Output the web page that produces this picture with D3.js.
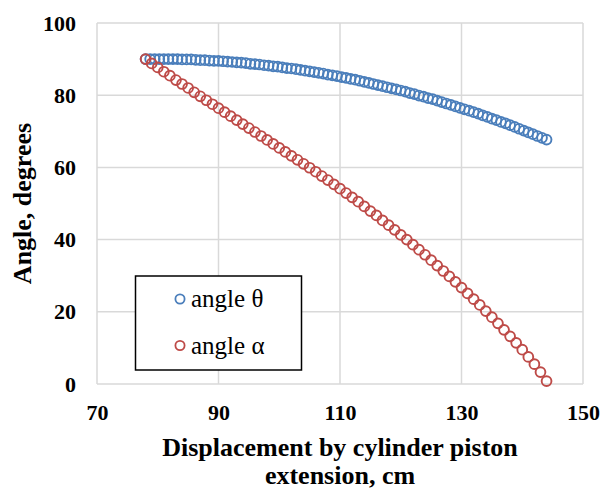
<!DOCTYPE html>
<html>
<head>
<meta charset="utf-8">
<script src="https://cdn.jsdelivr.net/npm/d3@7"></script>
<style>
  html, body { margin: 0; padding: 0; background: #fff; }
  svg { display: block; }
  text { font-family: "Liberation Serif", "Times New Roman", serif; }
</style>
</head>
<body>
<svg id="chart" width="600" height="490"></svg>
<script>
// ---- data ----
const xTicks = [70, 90, 110, 130, 150];
const yTicks = [0, 20, 40, 60, 80, 100];

const seriesNames = ["angle \u03b8", "angle \u03b1"];

// displacement values for angle theta
const thetaX = [78, 78.75, 79.5, 80.25, 81, 81.75, 82.5, 83.25, 84, 84.75, 85.5, 86.25, 87, 87.75, 88.5, 89.25,
  90, 90.75, 91.5, 92.25, 93, 93.75, 94.5, 95.25, 96, 96.75, 97.5, 98.25, 99, 99.75, 100.5, 101.25,
  102, 102.75, 103.5, 104.25, 105, 105.75, 106.5, 107.25, 108, 108.75, 109.5, 110.25, 111, 111.75,
  112.5, 113.25, 114, 114.75, 115.5, 116.25, 117, 117.75, 118.5, 119.25, 120, 120.75, 121.5, 122.25,
  123, 123.75, 124.5, 125.25, 126, 126.75, 127.5, 128.25, 129, 129.75, 130.5, 131.25, 132, 132.75,
  133.5, 134.25, 135, 135.75, 136.5, 137.25, 138, 138.75, 139.5, 140.25, 141, 141.75, 142.5, 143.25, 144];
const thetaY = [90.0, 90.0, 90.0, 90.0, 90.0, 90.0, 90.0, 90.0, 89.9, 89.9, 89.9, 89.8, 89.7, 89.7, 89.6, 89.5,
  89.5, 89.4, 89.3, 89.2, 89.1, 89.0, 88.9, 88.7, 88.6, 88.5, 88.3, 88.2, 88.0, 87.9, 87.7, 87.5,
  87.4, 87.2, 87.0, 86.8, 86.6, 86.4, 86.2, 86.0, 85.7, 85.5, 85.3, 85.0, 84.8, 84.5,
  84.3, 84.0, 83.7, 83.4, 83.1, 82.8, 82.5, 82.2, 81.9, 81.6, 81.3, 81.0, 80.6, 80.3,
  79.9, 79.6, 79.2, 78.9, 78.5, 78.1, 77.7, 77.3, 76.9, 76.5, 76.1, 75.7, 75.3, 74.9,
  74.4, 74.0, 73.5, 73.1, 72.6, 72.2, 71.7, 71.2, 70.7, 70.2, 69.7, 69.2, 68.7, 68.2, 67.7];

// displacement values for angle alpha
const alphaX = [78, 79, 80, 81, 82, 83, 84, 85, 86, 87, 88, 89, 90, 91, 92, 93, 94, 95, 96, 97, 98, 99,
  100, 101, 102, 103, 104, 105, 106, 107, 108, 109, 110, 111, 112, 113, 114, 115, 116, 117, 118, 119,
  120, 121, 122, 123, 124, 125, 126, 127, 128, 129, 130, 131, 132, 133, 134, 135, 136, 137, 138, 139,
  140, 141, 142, 143, 144];
const alphaY = [90.0, 88.8, 87.7, 86.5, 85.4, 84.2, 83.1, 82.0, 80.8, 79.7, 78.6, 77.5, 76.4, 75.3, 74.2, 73.1,
  72.0, 70.9, 69.8, 68.7, 67.6, 66.5, 65.4, 64.3, 63.2, 62.1, 61.0, 59.9, 58.8, 57.6, 56.5, 55.3,
  54.1, 52.9, 51.7, 50.5, 49.2, 47.9, 46.7, 45.3, 44.0, 42.7, 41.3, 40.0, 38.6, 37.2, 35.8, 34.3,
  32.8, 31.3, 29.8, 28.3, 26.7, 25.1, 23.5, 21.9, 20.2, 18.5, 16.8, 15.0, 13.2, 11.4, 9.5, 7.5,
  5.5, 3.3, 0.8];

const colors = ["#4A7EBB", "#BE4B48"];

// ---- layout ----
const W = 600, H = 490;
const margin = { left: 97, right: 17, top: 23, bottom: 106 };
const svg = d3.select("#chart");

const x = d3.scaleLinear().domain([70, 150]).range([margin.left, W - margin.right]);
const y = d3.scaleLinear().domain([0, 100]).range([H - margin.bottom, margin.top]);

// gridlines
const grid = svg.append("g");
grid.selectAll("line.h").data(yTicks).join("line")
  .attr("x1", x(70)).attr("x2", x(150))
  .attr("y1", d => y(d)).attr("y2", d => y(d))
  .attr("stroke", "#d9d9d9").attr("stroke-width", 1.5);
grid.selectAll("line.v").data(xTicks).join("line")
  .attr("y1", y(0)).attr("y2", y(100))
  .attr("x1", d => x(d)).attr("x2", d => x(d))
  .attr("stroke", "#d9d9d9").attr("stroke-width", 1.5);

// axes (labels only)
const yAxis = d3.axisLeft(y).tickValues(yTicks).tickSize(0).tickPadding(21);
const gy = svg.append("g").attr("transform", `translate(${margin.left},0)`).call(yAxis);
gy.select(".domain").remove();
gy.selectAll("text").attr("font-size", 22).attr("font-weight", "bold")
  .attr("font-family", "Liberation Serif").attr("fill", "#000");

const xAxis = d3.axisBottom(x).tickValues(xTicks).tickSize(0).tickPadding(20);
const gx = svg.append("g").attr("transform", `translate(0,${H - margin.bottom})`).call(xAxis);
gx.select(".domain").remove();
gx.selectAll("text").attr("font-size", 22).attr("font-weight", "bold")
  .attr("font-family", "Liberation Serif").attr("fill", "#000");

// axis titles
const cx = (x(70) + x(150)) / 2;
svg.append("text").attr("x", cx).attr("y", 456).attr("text-anchor", "middle")
  .attr("font-size", 26).attr("font-weight", "bold").text("Displacement by cylinder piston");
svg.append("text").attr("x", cx).attr("y", 484).attr("text-anchor", "middle")
  .attr("font-size", 26).attr("font-weight", "bold").text("extension, cm");

const cy = (y(0) + y(100)) / 2;
svg.append("text").attr("transform", `translate(31,${cy}) rotate(-90)`)
  .attr("text-anchor", "middle").attr("font-size", 26).attr("font-weight", "bold")
  .text("Angle, degrees");

// series
const series = [
  { name: seriesNames[0], color: colors[0], pts: thetaX.map((v, i) => [v, thetaY[i]]) },
  { name: seriesNames[1], color: colors[1], pts: alphaX.map((v, i) => [v, alphaY[i]]) }
];
series.forEach(s => {
  svg.append("g").selectAll("circle").data(s.pts).join("circle")
    .attr("cx", d => x(d[0])).attr("cy", d => y(d[1])).attr("r", 4.9)
    .attr("fill", "none").attr("stroke", s.color).attr("stroke-width", 1.9);
});

// legend
const lg = svg.append("g");
lg.append("rect").attr("x", 135.5).attr("y", 276).attr("width", 166).attr("height", 94)
  .attr("fill", "#fff").attr("stroke", "#000").attr("stroke-width", 1.5);
series.forEach((s, i) => {
  const yy = 299 + i * 46.5;
  lg.append("circle").attr("cx", 180).attr("cy", yy).attr("r", 4.6)
    .attr("fill", "none").attr("stroke", s.color).attr("stroke-width", 1.8);
  lg.append("text").attr("x", 191).attr("y", yy + 8).attr("font-size", 25)
    .attr("fill", "#000").text(s.name);
});
</script>
</body>
</html>
